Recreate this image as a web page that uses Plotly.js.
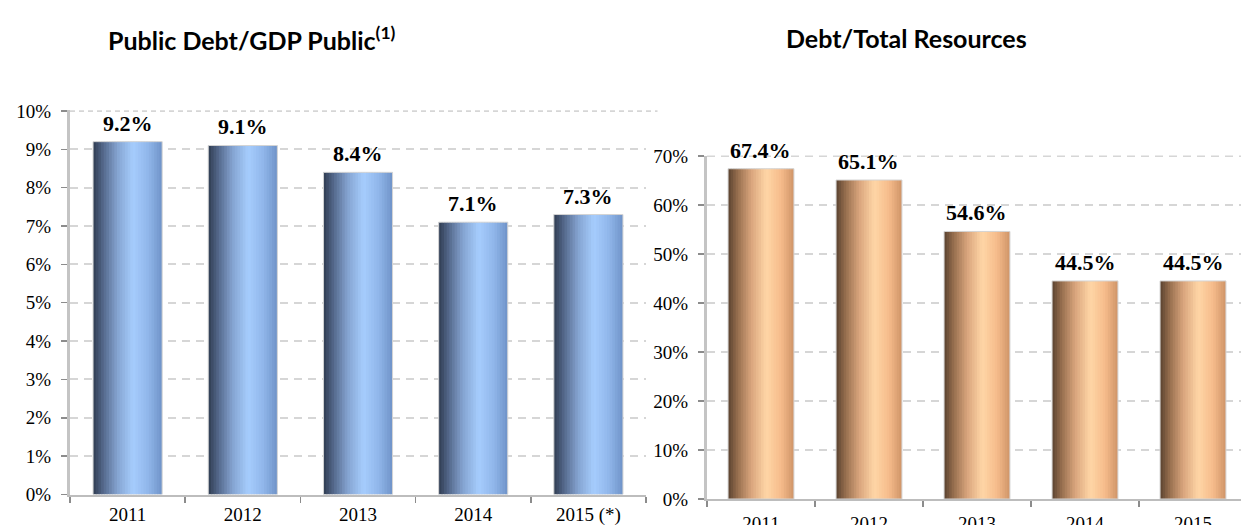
<!DOCTYPE html>
<html>
<head>
<meta charset="utf-8">
<script src="https://cdn.plot.ly/plotly-3.0.1.min.js"></script>
<style>html,body{margin:0;padding:0;background:#fff;}#chart{width:1241px;height:525px;}</style>
</head>
<body>
<div id="chart"></div>
<script>
// ---- data ----
const yearsGdp = ['2011', '2012', '2013', '2014', '2015 (*)'];
const debtGdp = [9.2, 9.1, 8.4, 7.1, 7.3];
const yearsRes = ['2011', '2012', '2013', '2014', '2015'];
const debtRes = [67.4, 65.1, 54.6, 44.5, 44.5];
const titleGdp = 'Public Debt/GDP Public<sup>(1)</sup>';
const titleRes = 'Debt/Total Resources';
const axisMaxGdp = 10;
const axisMaxRes = 70;

// ---- styles ----
const blueStops = [[0, '#2f3c52'], [0.15, '#55698c'], [0.35, '#84a3d0'], [0.58, '#a6cdfd'], [0.8, '#90b6ea'], [1, '#6f93c8']];
const orangeStops = [[0, '#5a4230'], [0.15, '#98704f'], [0.35, '#d8a47c'], [0.58, '#ffd6a6'], [0.8, '#f6bc8c'], [1, '#cf9468']];

function hex2rgb(h) { return [parseInt(h.substr(1,2),16), parseInt(h.substr(3,2),16), parseInt(h.substr(5,2),16)]; }
function colorAt(stops, t) {
  for (let i = 0; i < stops.length - 1; i++) {
    const [t0, c0] = stops[i], [t1, c1] = stops[i+1];
    if (t >= t0 && t <= t1) {
      const f = (t - t0) / (t1 - t0), a = hex2rgb(c0), b = hex2rgb(c1);
      return 'rgb(' + a.map((v, k) => Math.round(v + (b[k] - v) * f)).join(',') + ')';
    }
  }
  return stops[stops.length-1][1];
}

function stripes(x, y, xa, ya, W, stops) {
  const N = 26, step = W / N, out = [];
  for (let i = 0; i < N; i++) {
    const off = -W / 2 + i * step;
    const w = Math.min(step * 1.6, W / 2 - off);
    out.push({
      type: 'bar', x: x, y: y, xaxis: xa, yaxis: ya,
      offset: off, width: w,
      marker: {color: colorAt(stops, (i + 0.5) / N), line: {width: 0}},
      hoverinfo: 'skip', showlegend: false
    });
  }
  out.push({
    type: 'bar', x: x, y: y, xaxis: xa, yaxis: ya,
    offset: -W / 2, width: W,
    marker: {color: 'rgba(0,0,0,0)', line: {width: 1, color: '#d4d4d4'}},
    hoverinfo: 'skip', showlegend: false
  });
  return out;
}

const data = [].concat(
  stripes(yearsGdp, debtGdp, 'x', 'y', 0.6, blueStops),
  stripes(yearsRes, debtRes, 'x2', 'y2', 0.61, orangeStops)
);

const labelFont = {family: 'Liberation Serif, Times New Roman, serif', size: 22, color: '#000'};
const annotations = [];
// category axes: use the category index so numeric-looking names are not read as positions
debtGdp.forEach((v, i) => annotations.push({x: i, y: v, xref: 'x', yref: 'y', text: '<b>' + v.toFixed(1) + '%</b>', showarrow: false, yanchor: 'bottom', yshift: 4, font: labelFont}));
debtRes.forEach((v, i) => annotations.push({x: i, y: v, xref: 'x2', yref: 'y2', text: '<b>' + v.toFixed(1) + '%</b>', showarrow: false, yanchor: 'bottom', yshift: 4, font: labelFont}));
const titleFont = {family: 'Lato, DejaVu Sans Condensed, sans-serif', size: 25, color: '#000', weight: 900};
annotations.push({xref: 'paper', yref: 'paper', x: 252 / 1241, y: 1 - 38 / 525, text: '<b>' + titleGdp + '</b>', showarrow: false, xanchor: 'center', yanchor: 'middle', font: titleFont});
annotations.push({xref: 'paper', yref: 'paper', x: 906 / 1241, y: 1 - 38 / 525, text: '<b>' + titleRes + '</b>', showarrow: false, xanchor: 'center', yanchor: 'middle', font: titleFont});

const tickFont = {family: 'Liberation Serif, Times New Roman, serif', size: 19, color: '#000'};
const gridStyle = {showgrid: true, gridcolor: '#d6d6d6', gridwidth: 2, griddash: '8px,6px'};

function xAxis(domain, range) {
  return {domain: domain, range: range, type: 'category', showline: true, linecolor: '#bdbdbd', linewidth: 2,
    ticks: 'outside', tickson: 'boundaries', ticklen: 6, tickcolor: '#8c8c8c', tickwidth: 1.5,
    showgrid: false, zeroline: false, tickfont: tickFont, fixedrange: true};
}
function yAxis(anchor, domain, range, dtick) {
  return Object.assign({anchor: anchor, domain: domain, range: range, dtick: dtick, ticksuffix: '%',
    showline: true, linecolor: '#c4c4c4', linewidth: 3, ticks: 'outside', ticklen: 6, tickcolor: '#8c8c8c', tickwidth: 1.5,
    zeroline: false, tickfont: tickFont, ticklabelstandoff: 6, fixedrange: true}, gridStyle);
}

const shapes = [
  {type: 'line', xref: 'x domain', yref: 'y', x0: 0, x1: 1.02, y0: axisMaxGdp, y1: axisMaxGdp, layer: 'below',
   line: {color: '#d6d6d6', width: 2, dash: '5px,4px'}},
  {type: 'line', xref: 'x2 domain', yref: 'y2', x0: 0, x1: 1, y0: axisMaxRes, y1: axisMaxRes, layer: 'below',
   line: {color: '#d6d6d6', width: 2, dash: '8px,6px'}}
];

const layout = {
  width: 1241, height: 525,
  margin: {l: 0, r: 0, t: 0, b: 0},
  paper_bgcolor: '#fff', plot_bgcolor: 'rgba(0,0,0,0)',
  barmode: 'overlay', showlegend: false,
  xaxis: Object.assign(xAxis([70 / 1241, 646 / 1241], [-0.5, 4.5]), {anchor: 'y', ticklabelstandoff: 2}),
  yaxis: yAxis('x', [(525 - 494.5) / 525, (525 - 110.2) / 525], [0, 10.02], 1),
  xaxis2: Object.assign(xAxis([707 / 1241, 1], [-0.5, -0.5 + 534 / 108]), {anchor: 'y2', ticklabelstandoff: 6}),
  yaxis2: yAxis('x2', [(525 - 499) / 525, (525 - 155.5) / 525], [0, 70.1], 10),
  shapes: shapes,
  annotations: annotations
};

Plotly.newPlot('chart', data, layout, {displayModeBar: false, staticPlot: true});
</script>
</body>
</html>
